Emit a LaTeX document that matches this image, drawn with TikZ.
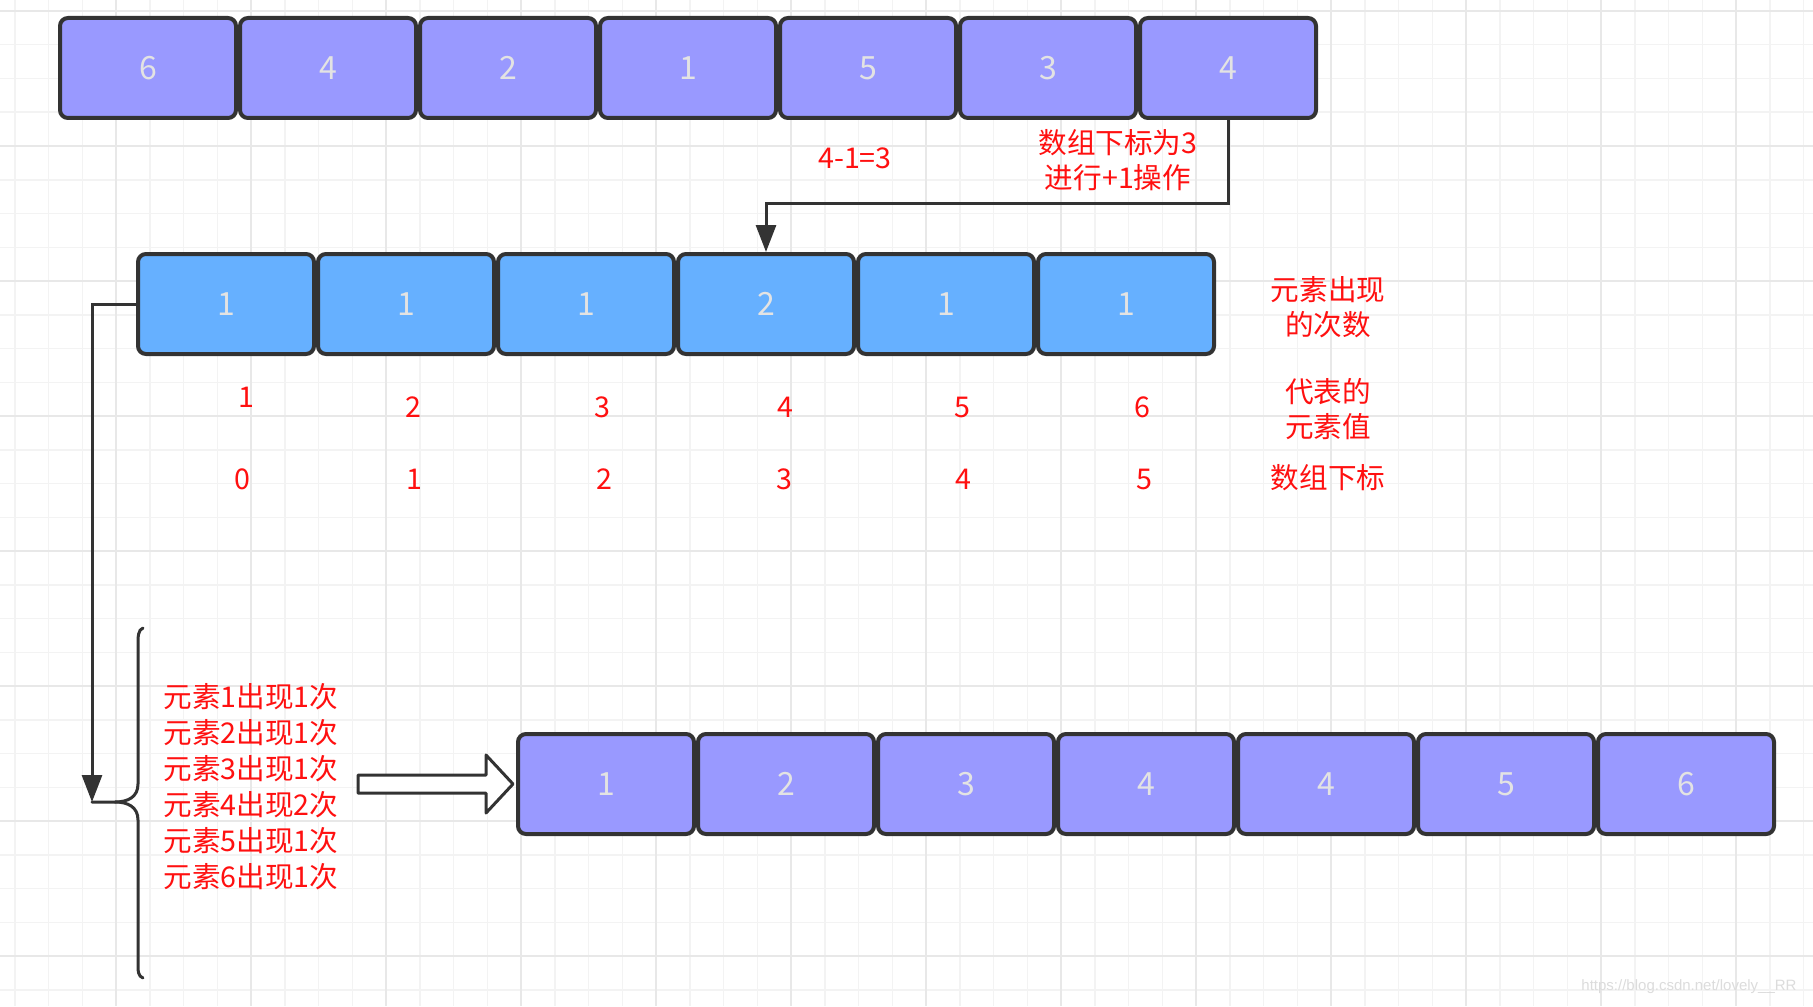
\documentclass[tikz,border=0pt]{standalone}
\usepackage{fontspec}
\newfontfamily\cjk{Noto Sans CJK SC}
\newfontfamily\wmfont{Liberation Sans}
\usepackage{xcolor}
\usetikzlibrary{arrows.meta, positioning}

\definecolor{topfill}{HTML}{9999FF}
\definecolor{cntfill}{HTML}{66B0FF}
\definecolor{edge}{HTML}{333333}
\definecolor{digit}{HTML}{E3E3E3}
\definecolor{notered}{HTML}{FF1010}
\definecolor{gridminor}{HTML}{F3F3F3}
\definecolor{gridmajor}{HTML}{E8E8E8}
\definecolor{wmgray}{HTML}{DCDCDC}

\begin{document}
\begin{tikzpicture}[
  x=0.5pt, y=-0.5pt,
  cell/.style={rectangle, draw=edge, line width=2pt, rounded corners=4pt, minimum width=88pt, minimum height=50pt, inner sep=0pt, text=digit, font=\cjk\fontsize{16}{19}\selectfont},
  numcell/.style={cell, fill=topfill},
  cntcell/.style={cell, fill=cntfill},
  note/.style={text=notered, font=\cjk\fontsize{14.3}{17.5}\selectfont, align=center, inner sep=0pt},
  link/.style={draw=edge, line width=1.5pt, -{Triangle[length=13.5pt,width=10pt]}},
  curly/.style={draw=edge, line width=1.5pt, line cap=round},
  fatarrow/.style={draw=edge, fill=white, line width=1.5pt, line join=round},
  minorline/.style={draw=gridminor, line width=0.75pt},
  majorline/.style={draw=gridmajor, line width=1pt}
]

% Background grid
\fill[white] (0,0) rectangle (1813,1006);
\useasboundingbox (0,0) rectangle (1813,1006);
\foreach \gx in {14.75,48.5,...,1813} \draw[minorline] (\gx,0) -- (\gx,1006);
\foreach \gy in {11,44.75,...,1006} \draw[minorline] (0,\gy) -- (1813,\gy);
\foreach \gx in {116,251,...,1813} \draw[majorline] (\gx,0) -- (\gx,1006);
\foreach \gy in {11,146,...,1006} \draw[majorline] (0,\gy) -- (1813,\gy);

% Input array
\node[numcell] (r1a) at (148,68) {6};
\node[numcell, right=0pt of r1a] (r1b) {4};
\node[numcell, right=0pt of r1b] (r1c) {2};
\node[numcell, right=0pt of r1c] (r1d) {1};
\node[numcell, right=0pt of r1d] (r1e) {5};
\node[numcell, right=0pt of r1e] (r1f) {3};
\node[numcell, right=0pt of r1f] (r1g) {4};

% Count array
\node[cntcell] (r2a) at (226,304) {1};
\node[cntcell, right=0pt of r2a] (r2b) {1};
\node[cntcell, right=0pt of r2b] (r2c) {1};
\node[cntcell, right=0pt of r2c] (r2d) {2};
\node[cntcell, right=0pt of r2d] (r2e) {1};
\node[cntcell, right=0pt of r2e] (r2f) {1};

% Notes on the count step
\node[note] (minus) at (855,158) {4-1=3};
\node[note] (plusone) at (1118,160) {数组下标为3\\进行+1操作};
\node[note] (cntlbl) at (1328,307) {元素出现\\的次数};
\node[note] (vallbl) at (1328,409) {代表的\\元素值};
\node[note] (idxlbl) at (1328,478) {数组下标};

% Values and indices
\node[note] (val1) at (246,397) {1};
\node[note] (val2) at (413,407) {2};
\node[note] (val3) at (602,407) {3};
\node[note] (val4) at (785,407) {4};
\node[note] (val5) at (962,407) {5};
\node[note] (val6) at (1142,407) {6};
\node[note] (idx0) at (242,479) {0};
\node[note] (idx1) at (414,479) {1};
\node[note] (idx2) at (604,479) {2};
\node[note] (idx3) at (784,479) {3};
\node[note] (idx4) at (963,479) {4};
\node[note] (idx5) at (1144,479) {5};

% Tally and brace
\node[note, align=left, anchor=west, font=\cjk\fontsize{14.3}{18}\selectfont] (tally) at (163,787)
  {元素1出现1次\\元素2出现1次\\元素3出现1次\\元素4出现2次\\元素5出现1次\\元素6出现1次};
\coordinate (bracetip) at (92,802);
\draw[curly] (143,628) .. controls (138,630) and (138,636) .. (138,646) -- (138,784)
  .. controls (138,797) and (128,802) .. (115,802) -- (bracetip);
\draw[curly] (115,802) .. controls (128,802) and (138,807) .. (138,820) -- (138,962)
  .. controls (138,972) and (138,976) .. (143,978);

% Sorted array
\node[numcell] (r3a) at (606,784) {1};
\node[numcell, right=0pt of r3a] (r3b) {2};
\node[numcell, right=0pt of r3b] (r3c) {3};
\node[numcell, right=0pt of r3c] (r3d) {4};
\node[numcell, right=0pt of r3d] (r3e) {4};
\node[numcell, right=0pt of r3e] (r3f) {5};
\node[numcell, right=0pt of r3f] (r3g) {6};

% Connections
\draw[link] (r1g.south) -- ++(0,83) -| (r2d.north);
\draw[link] (r2a.west) -| (bracetip);
\draw[fatarrow, shift={(r3a.west)}] (-158,-9) -- (-30,-9) -- (-30,-29) -- (-3,0)
  -- (-30,29) -- (-30,9) -- (-158,9) -- cycle;

\node[text=wmgray, font=\wmfont\fontsize{7.5}{9}\selectfont, inner sep=0pt] (wmark) at (1689,987) {https://blog.csdn.net/lovely\_\_RR};

\end{tikzpicture}
\end{document}
